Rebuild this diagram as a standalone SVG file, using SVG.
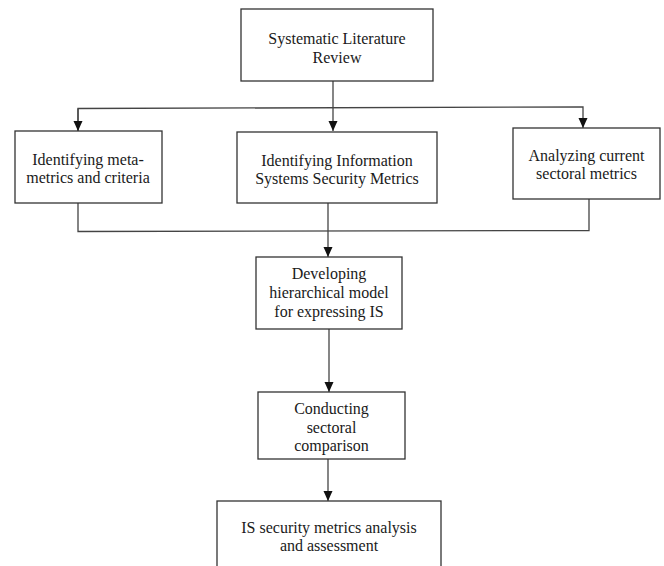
<svg xmlns="http://www.w3.org/2000/svg" width="664" height="566" viewBox="0 0 664 566">
<defs>
<marker id="arr" viewBox="0 0 10 10" refX="10" refY="5" markerWidth="10" markerHeight="10" markerUnits="userSpaceOnUse" orient="auto">
<path d="M0,0.5 L10,5 L0,9.5 Z" fill="#111"/>
</marker>
<style>
.box{fill:#fff;stroke:#333;stroke-width:1.3}
.t{font-family:"Liberation Serif","Times New Roman",serif;font-size:16px;fill:#1a1a1a;text-anchor:middle}
.c{fill:none;stroke:#444;stroke-width:1.3}
</style>
</defs>
<rect width="664" height="566" fill="#fff"/>
<g id="connectors">
<line class="c" x1="333" y1="81" x2="333" y2="131" marker-end="url(#arr)"/>
<polyline class="c" points="78,131 78,108.5 583,107 583,128" marker-end="url(#arr)"/>
<line class="c" x1="78" y1="108.5" x2="78" y2="131" marker-end="url(#arr)"/>
<polyline class="c" points="78,203 78,231.5 589,230.5 589,199"/>
<line class="c" x1="328" y1="203" x2="328" y2="231"/>
<line class="c" x1="328" y1="231" x2="328" y2="257" marker-end="url(#arr)"/>
<line class="c" x1="329" y1="329" x2="329" y2="392" marker-end="url(#arr)"/>
<line class="c" x1="328" y1="459" x2="328" y2="501" marker-end="url(#arr)"/>
</g>
<g id="slr">
<rect class="box" x="241" y="9" width="192" height="72"/>
<text class="t" x="337" y="43.5">Systematic Literature</text>
<text class="t" x="337" y="62.5">Review</text>
</g>
<g id="meta">
<rect class="box" x="15" y="131" width="147" height="72"/>
<text class="t" x="88" y="164.5">Identifying meta-</text>
<text class="t" x="88" y="182.5">metrics and criteria</text>
</g>
<g id="issm">
<rect class="box" x="237" y="132" width="200" height="71"/>
<text class="t" x="337" y="165.5">Identifying Information</text>
<text class="t" x="337" y="183.5">Systems Security Metrics</text>
</g>
<g id="sectoral">
<rect class="box" x="513" y="128" width="147" height="71"/>
<text class="t" x="586.5" y="160.5">Analyzing current</text>
<text class="t" x="586.5" y="178.5">sectoral metrics</text>
</g>
<g id="hier">
<rect class="box" x="256" y="257" width="146" height="72"/>
<text class="t" x="329" y="278.5">Developing</text>
<text class="t" x="329" y="297.5">hierarchical model</text>
<text class="t" x="329" y="316.5">for expressing IS</text>
</g>
<g id="compare">
<rect class="box" x="258" y="392" width="147" height="67"/>
<text class="t" x="331.5" y="413.5">Conducting</text>
<text class="t" x="331.5" y="432.5">sectoral</text>
<text class="t" x="331.5" y="450.5">comparison</text>
</g>
<g id="assess">
<rect class="box" x="217" y="501" width="224" height="80"/>
<text class="t" x="329" y="532.5">IS security metrics analysis</text>
<text class="t" x="329" y="550.5">and assessment</text>
</g>
</svg>
